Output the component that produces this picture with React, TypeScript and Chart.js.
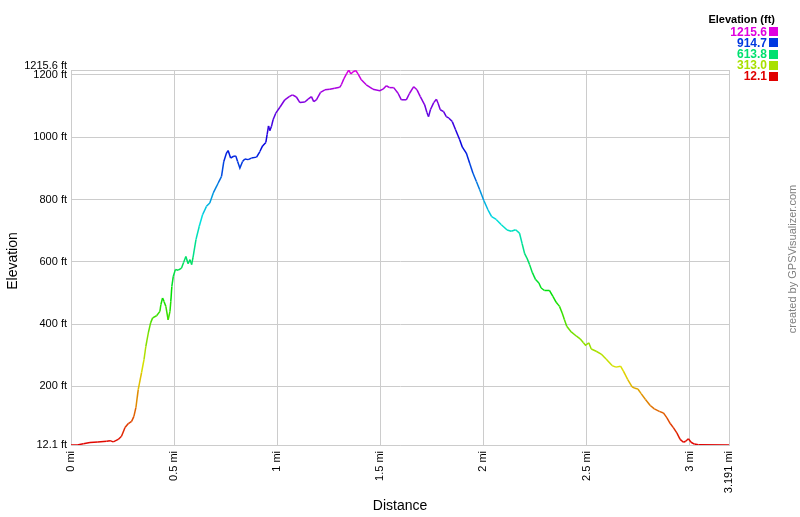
import React, { useEffect, useRef } from 'react';
import { Chart, registerables } from 'chart.js';

Chart.register(...registerables);

const distanceMi = [
  0, 0.03, 0.06, 0.092, 0.13, 0.173, 0.189, 0.205, 0.229, 0.245, 0.262, 0.278, 0.294, 0.305, 0.315, 0.326,
  0.342, 0.354, 0.363, 0.375, 0.386, 0.396, 0.415, 0.431, 0.436, 0.444, 0.451, 0.46, 0.471, 0.48, 0.484,
  0.489, 0.496, 0.506, 0.52, 0.536, 0.546, 0.557, 0.568, 0.577, 0.585, 0.592, 0.606, 0.622, 0.638, 0.657,
  0.673, 0.69, 0.714, 0.73, 0.741, 0.754, 0.762, 0.774, 0.786, 0.799, 0.808, 0.819, 0.832, 0.843, 0.859,
  0.875, 0.9, 0.916, 0.929, 0.945, 0.951, 0.958, 0.964, 0.972, 0.98, 0.993, 1.013, 1.037, 1.058, 1.074,
  1.093, 1.11, 1.134, 1.15, 1.166, 1.177, 1.19, 1.21, 1.231, 1.255, 1.279, 1.303, 1.311, 1.323, 1.336,
  1.347, 1.357, 1.368, 1.381, 1.392, 1.408, 1.432, 1.464, 1.497, 1.513, 1.529, 1.545, 1.565, 1.586, 1.602,
  1.626, 1.642, 1.662, 1.678, 1.694, 1.715, 1.726, 1.734, 1.743, 1.759, 1.772, 1.78, 1.791, 1.807, 1.82,
  1.833, 1.849, 1.865, 1.885, 1.898, 1.917, 1.933, 1.949, 1.966, 1.982, 2.002, 2.022, 2.04, 2.062, 2.087,
  2.115, 2.135, 2.156, 2.175, 2.188, 2.2, 2.211, 2.224, 2.237, 2.253, 2.269, 2.28, 2.296, 2.32, 2.337,
  2.353, 2.369, 2.382, 2.393, 2.404, 2.426, 2.45, 2.469, 2.485, 2.495, 2.511, 2.523, 2.547, 2.571, 2.595,
  2.624, 2.643, 2.665, 2.679, 2.7, 2.721, 2.735, 2.749, 2.765, 2.786, 2.809, 2.829, 2.853, 2.873, 2.89,
  2.906, 2.922, 2.938, 2.954, 2.97, 2.981, 2.994, 3.007, 3.023, 3.043, 3.191,
];

const elevationFt = [
  12.1, 12.5, 16, 20, 22, 24, 26, 22, 30, 40, 68, 81, 88, 104, 133, 190,
  244, 286, 329, 372, 404, 420, 427, 441, 463, 484, 473, 457, 414, 441, 473,
  521, 553, 575, 573, 580, 598, 617, 594, 607, 591, 615, 671, 714, 751, 778,
  789, 821, 853, 874, 922, 949, 957, 933, 938, 940, 922, 901, 922, 930, 928,
  933, 936, 954, 972, 983, 1008, 1036, 1021, 1034, 1056, 1077, 1096, 1120, 1130, 1136,
  1129, 1111, 1113, 1122, 1130, 1114, 1120, 1144, 1152, 1154, 1157, 1160, 1168, 1187, 1203,
  1215.6, 1203, 1210, 1214, 1203, 1184, 1168, 1154, 1149, 1154, 1165, 1159, 1159, 1141, 1120,
  1120, 1141, 1162, 1152, 1130, 1104, 1079, 1066, 1088, 1111, 1122, 1109, 1088, 1082, 1066,
  1061, 1050, 1024, 992, 968, 949, 917, 885, 858, 831, 797, 767, 745, 736, 719,
  702, 698, 703, 692, 658, 626, 612, 591, 566, 543, 532, 516, 508, 508, 489,
  470, 457, 436, 414, 393, 375, 362, 353, 340, 332, 340, 320, 313, 304, 288,
  267, 262, 265, 249, 222, 199, 194, 192, 177, 158, 139, 128, 120, 115, 99,
  81, 67, 51, 30, 21, 24, 32, 21, 15, 13, 12.1,
];

const yTickValues = [12.1, 200, 400, 600, 800, 1000, 1200, 1215.6];
const xTickValues = [0, 0.5, 1, 1.5, 2, 2.5, 3, 3.191];
const legendValues = ['1215.6', '914.7', '613.8', '313.0', '12.1'];
const legendTitle = 'Elevation (ft)';
const creditText = 'created by GPSVisualizer.com';
const yTitle = 'Elevation';
const xTitle = 'Distance';
const ELEV_MIN = 12.1;
const ELEV_MAX = 1215.6;

const FONT = '"Liberation Sans", Arial, Helvetica, sans-serif';
const GRID = '#cccccc';

function colorFor(v: number): string {
  let t = (v - ELEV_MIN) / (ELEV_MAX - ELEV_MIN);
  t = Math.max(0, Math.min(1, t));
  const h = 300 * t;
  return `hsl(${h.toFixed(1)}, 100%, 44%)`;
}

const overlayPlugin = {
  id: 'gpsOverlay',
  afterDraw(chart: any) {
    const ctx = chart.ctx as CanvasRenderingContext2D;
    const yScale = chart.scales.y;
    ctx.save();
    // top tick label, nudged up
    ctx.font = `11px ${FONT}`;
    ctx.fillStyle = '#000';
    ctx.textAlign = 'right';
    ctx.textBaseline = 'middle';
    ctx.fillText(`${yTickValues[yTickValues.length - 1]} ft`, 67, yScale.getPixelForValue(ELEV_MAX) - 4);

    // axis titles
    ctx.font = `14px ${FONT}`;
    ctx.textAlign = 'center';
    ctx.fillText(xTitle, (chart.chartArea.left + chart.chartArea.right) / 2, 506);
    ctx.save();
    ctx.translate(13, 261);
    ctx.rotate(-Math.PI / 2);
    ctx.fillText(yTitle, 0, 0);
    ctx.restore();

    // credit
    ctx.save();
    ctx.font = `11px ${FONT}`;
    ctx.fillStyle = '#808080';
    ctx.translate(793, 259);
    ctx.rotate(-Math.PI / 2);
    ctx.textAlign = 'center';
    ctx.fillText(creditText, 0, 0);
    ctx.restore();

    // legend
    ctx.font = `bold 11px ${FONT}`;
    ctx.fillStyle = '#000';
    ctx.textAlign = 'right';
    ctx.fillText(legendTitle, 775, 20);
    ctx.font = `bold 12px ${FONT}`;
    legendValues.forEach((lab, i) => {
      const y = 32.3 + i * 11.1;
      const c = colorFor(parseFloat(lab));
      ctx.fillStyle = c;
      ctx.fillText(lab, 767, y);
      ctx.fillRect(769, Math.round(y - 5), 9, 9);
    });
    ctx.restore();
  },
};

export default function App() {
  const ref = useRef<HTMLCanvasElement>(null);
  useEffect(() => {
    document.body.style.margin = '0';
    const canvas = ref.current;
    if (!canvas) return;
    const points = distanceMi.map((x, i) => ({ x, y: elevationFt[i] }));
    const tickFont = { family: FONT, size: 11 };
    const chart = new Chart(canvas, {
      type: 'line',
      data: {
        datasets: [
          {
            data: points,
            borderWidth: 1.5,
            pointRadius: 0,
            tension: 0,
            fill: false,
            borderColor: colorFor(600),
            segment: {
              borderColor: (c: any) => colorFor((c.p0.parsed.y + c.p1.parsed.y) / 2),
            },
          },
        ],
      },
      options: {
        animation: false,
        responsive: false,
        devicePixelRatio: 1,
        layout: { padding: { top: 70, right: 71, left: 0, bottom: 0 } },
        plugins: { legend: { display: false }, tooltip: { enabled: false } },
        scales: {
          x: {
            type: 'linear',
            min: 0,
            max: 3.191,
            afterBuildTicks: (s: any) => {
              s.ticks = xTickValues.map((v) => ({ value: v }));
            },
            afterFit: (s: any) => {
              s.height = 72;
            },
            ticks: {
              autoSkip: false,
              minRotation: 90,
              maxRotation: 90,
              padding: 6,
              color: '#000',
              font: tickFont,
              callback: (v: any) => `${v} mi`,
            },
            grid: { color: GRID, drawTicks: false, lineWidth: 1 },
            border: { color: GRID },
          },
          y: {
            type: 'linear',
            min: ELEV_MIN,
            max: ELEV_MAX,
            afterBuildTicks: (s: any) => {
              s.ticks = yTickValues.map((v) => ({ value: v }));
            },
            afterFit: (s: any) => {
              s.width = 71;
            },
            ticks: {
              autoSkip: false,
              padding: 4,
              color: '#000',
              font: tickFont,
              callback: (v: any) => (v === ELEV_MAX ? '' : `${v} ft`),
            },
            grid: { color: GRID, drawTicks: false, lineWidth: 1 },
            border: { color: GRID },
          },
        },
      },
      plugins: [overlayPlugin],
    } as any);
    return () => chart.destroy();
  }, []);
  return (
    <div style={{ width: 800, height: 517, position: 'relative' }}>
      <canvas ref={ref} width={800} height={517} style={{ display: 'block' }} />
    </div>
  );
}
